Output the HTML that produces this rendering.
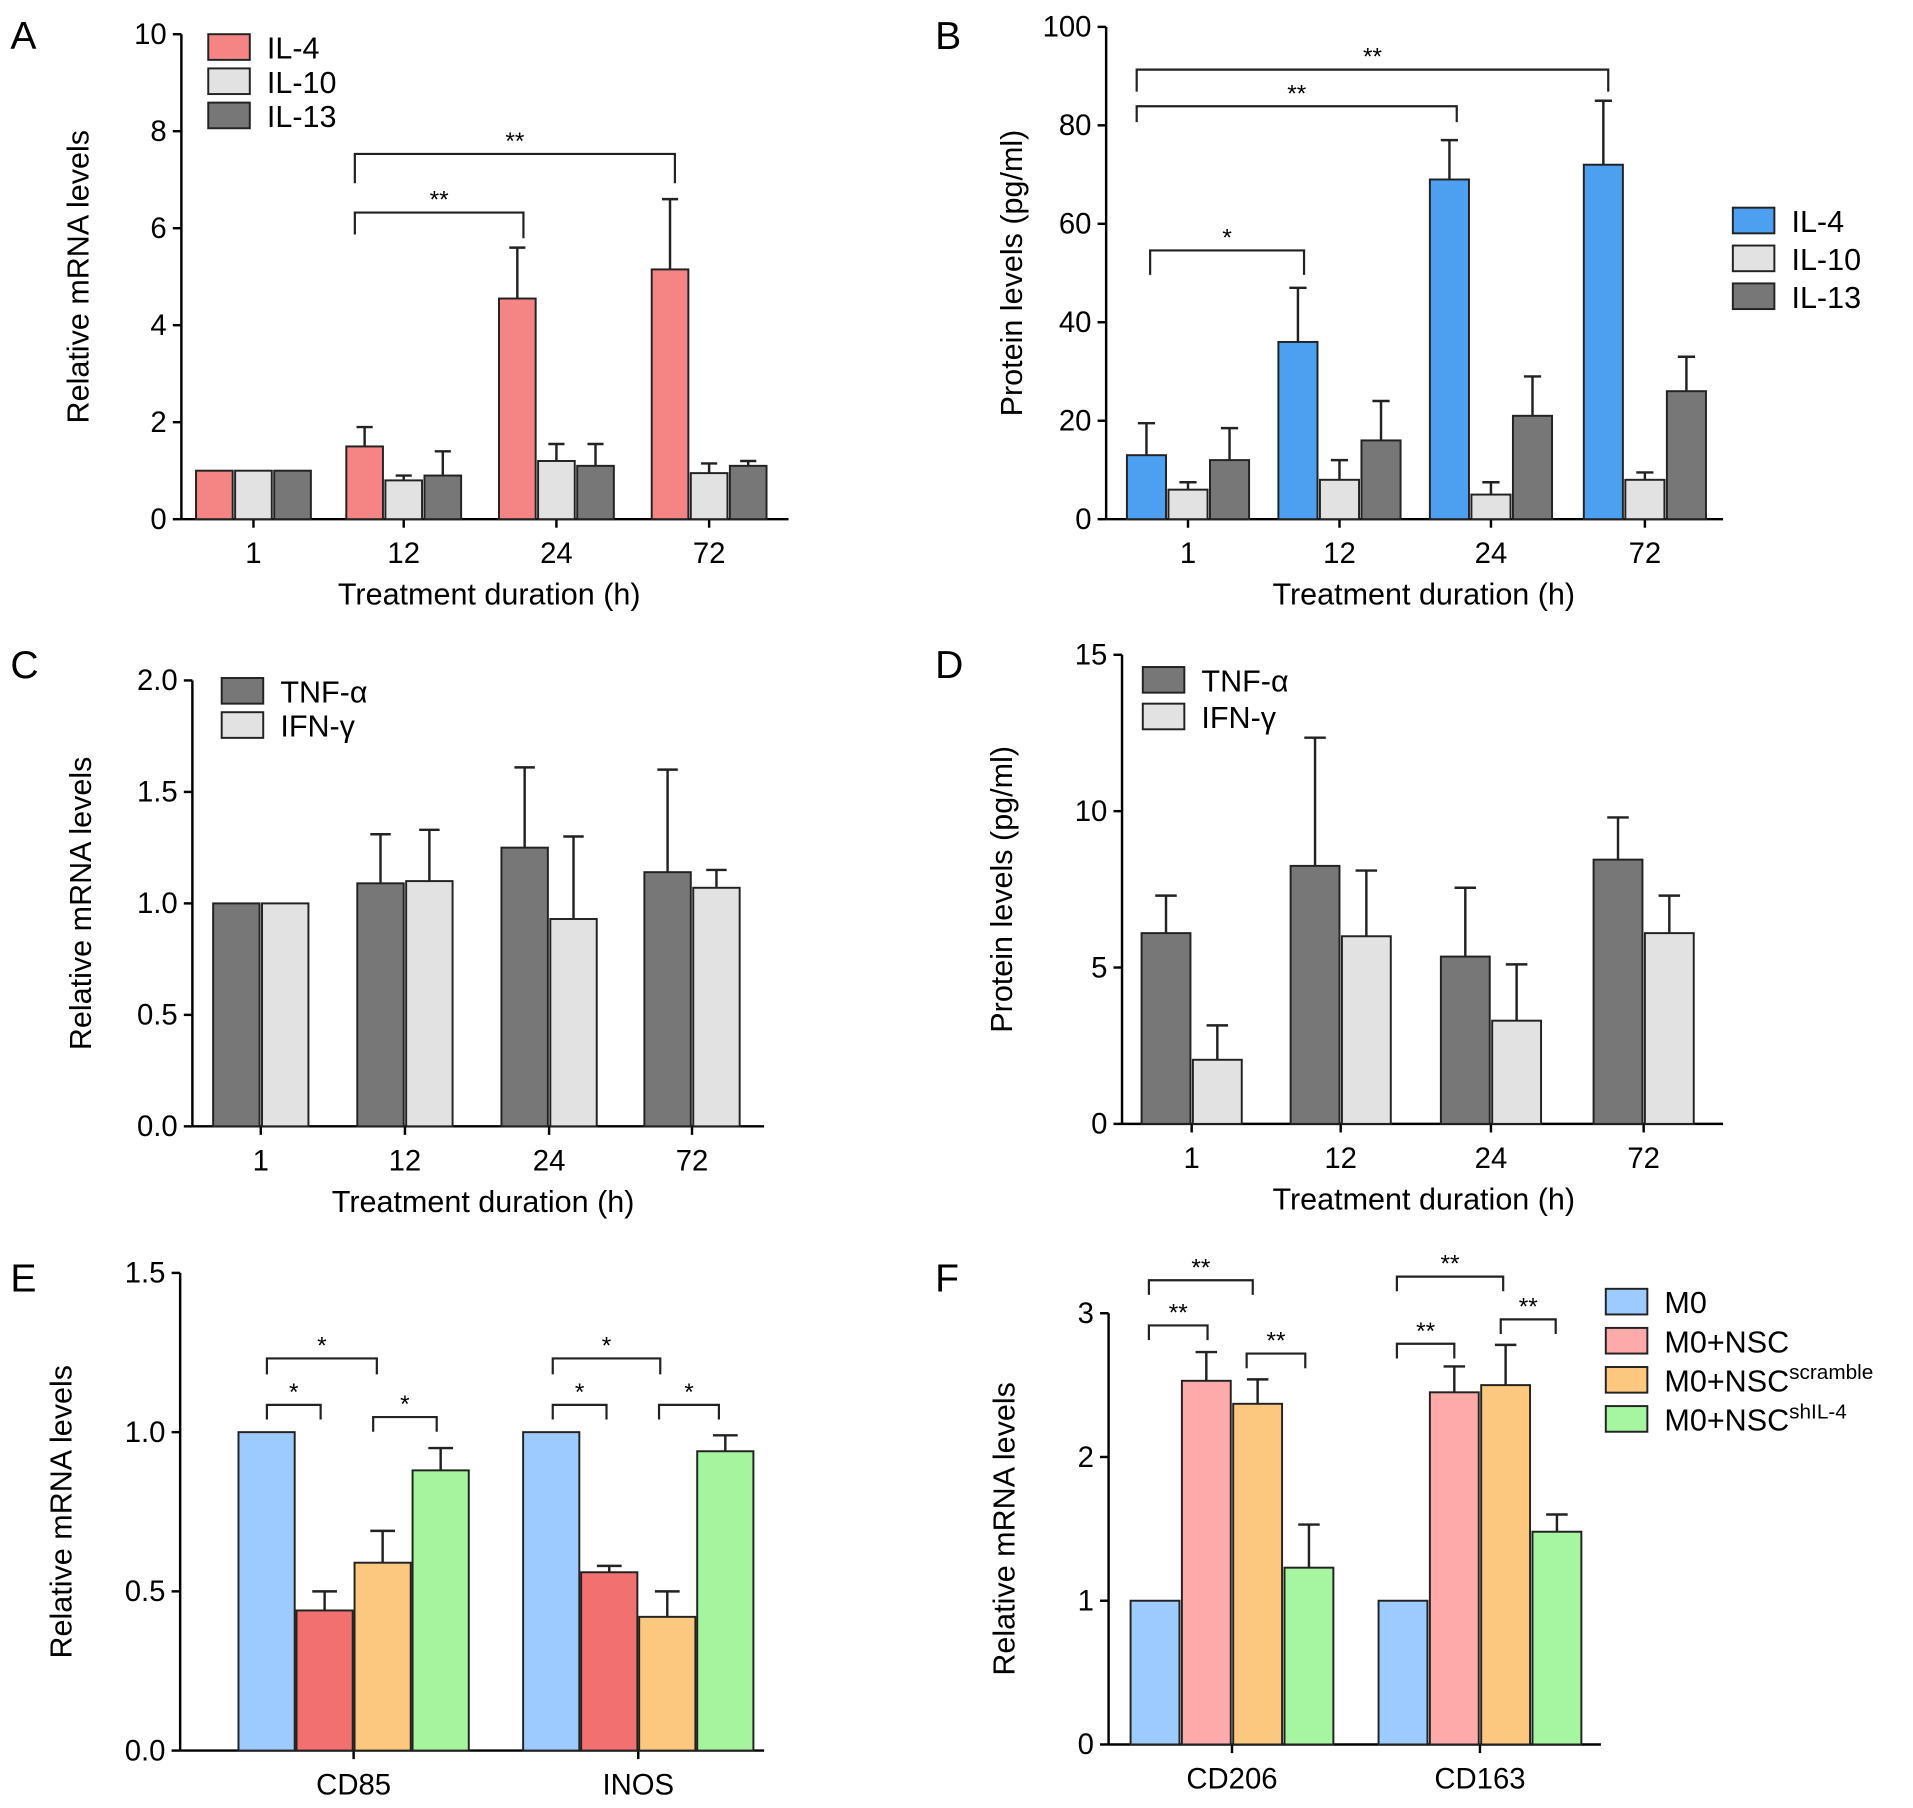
<!DOCTYPE html>
<html><head><meta charset="utf-8"><style>
html,body{margin:0;padding:0;background:#fff}
svg{display:block;font-family:"Liberation Sans",Arial,sans-serif}
</style></head><body>
<svg id="root" width="1913" height="1808" viewBox="0 0 1565 1480" xmlns="http://www.w3.org/2000/svg"></svg>
<script>
// ---- data ----
const groupsTime = ["1","12","24","72"];
const aIL4 = [1,1.5,4.55,5.15], aIL4e = [0,0.4,1.05,1.45];
const aIL10 = [1,0.8,1.2,0.95], aIL10e = [0,0.1,0.35,0.2];
const aIL13 = [1,0.9,1.1,1.1], aIL13e = [0,0.5,0.45,0.1];
const aTicks = [0,2,4,6,8,10];
const bIL4 = [13,36,69,72], bIL4e = [6.5,11,8,13];
const bIL10 = [6,8,5,8], bIL10e = [1.5,4,2.5,1.5];
const bIL13 = [12,16,21,26], bIL13e = [6.5,8,8,7];
const bTicks = [0,20,40,60,80,100];
const cTNF = [1,1.09,1.25,1.14], cTNFe = [0,0.22,0.36,0.46];
const cIFN = [1,1.1,0.93,1.07], cIFNe = [0,0.23,0.37,0.08];
const cTicks = ["0.0","0.5","1.0","1.5","2.0"];
const dTNF = [6.1,8.25,5.35,8.45], dTNFe = [1.2,4.1,2.2,1.35];
const dIFN = [2.05,6.0,3.3,6.1], dIFNe = [1.1,2.1,1.8,1.2];
const dTicks = [0,5,10,15];
const eGroups = ["CD85","INOS"];
const eM0 = [1,1], eM0e=[0,0];
const eNSC = [0.44,0.56], eNSCe=[0.06,0.02];
const eScr = [0.59,0.42], eScre=[0.1,0.08];
const eSh = [0.88,0.94], eShe=[0.07,0.05];
const eTicks = ["0.0","0.5","1.0","1.5"];
const fGroups = ["CD206","CD163"];
const fM0 = [1,1], fM0e=[0,0];
const fNSC = [2.53,2.45], fNSCe=[0.2,0.18];
const fScr = [2.37,2.5], fScre=[0.17,0.28];
const fSh = [1.23,1.48], fShe=[0.3,0.12];
const fTicks = [0,1,2,3];

const NS="http://www.w3.org/2000/svg", root=document.getElementById('root');
function mk(tag,attrs,parent,text){const e=document.createElementNS(NS,tag);for(const k in attrs)e.setAttribute(k,attrs[k]);if(text!==undefined)e.textContent=text;(parent||root).appendChild(e);return e;}

function panel(cfg){
  const g=mk('g',{});
  
  
  const y=v=>cfg.y0-(v-cfg.min)/(cfg.max-cfg.min)*(cfg.y0-cfg.ytop);
  const L=mk('text',{x:cfg.lx,y:cfg.ly,'font-size':32},g,cfg.letter);
  
  mk('line',{x1:cfg.ax,y1:cfg.ytop,x2:cfg.ax,y2:cfg.y0,stroke:'#000','stroke-width':2},g);
  mk('line',{x1:cfg.ax,y1:cfg.y0,x2:cfg.axEnd,y2:cfg.y0,stroke:'#000','stroke-width':2},g);
  cfg.ticks.forEach(t=>{const v=parseFloat(t);const yy=y(v);
    mk('line',{x1:cfg.ax-7,y1:yy,x2:cfg.ax,y2:yy,stroke:'#000','stroke-width':2},g);
    const tl=mk('text',{x:cfg.ax-12,y:yy+8,'font-size':24,'text-anchor':'end'},g,String(t));
    });
  const yl=mk('text',{x:0,y:0,'font-size':25,'text-anchor':'middle',transform:`translate(${cfg.ylx},${(cfg.y0+cfg.ytop)/2}) rotate(-90)`},g,cfg.ylabel);
  
  if(cfg.xlabel){const xl=mk('text',{x:cfg.xlx,y:cfg.y0+70,'font-size':25,'text-anchor':'middle'},g,cfg.xlabel);
    }
  const n=cfg.series.length;
  cfg.groups.forEach((gl,i)=>{const c=cfg.centers[i];
    mk('line',{x1:c,y1:cfg.y0,x2:c,y2:cfg.y0+7,stroke:'#000','stroke-width':2},g);
    const t=mk('text',{x:c,y:cfg.y0+36,'font-size':24,'text-anchor':'middle'},g,gl);
    
    cfg.series.forEach((s,j)=>{
      const x0=c-n*cfg.bw/2-(n-1)*cfg.gap/2+j*(cfg.bw+cfg.gap);
      const top=y(s.v[i]);
      const r=mk('rect',{x:x0,y:top,width:cfg.bw,height:cfg.y0-top,fill:s.c,stroke:'#222','stroke-width':1.6},g);
      
      
      if(s.e[i]>0){const et=y(s.v[i]+s.e[i]);const cx=x0+cfg.bw/2;
        mk('line',{x1:cx,y1:top,x2:cx,y2:et,stroke:'#222','stroke-width':2},g);
        mk('line',{x1:cx-cfg.bw*0.22,y1:et,x2:cx+cfg.bw*0.22,y2:et,stroke:'#222','stroke-width':2},g);}
    });
  });
  if(cfg.legX>0) cfg.series.forEach((s,j)=>{const ly=cfg.legY+j*cfg.legDy;
    const r=mk('rect',{x:cfg.legX,y:ly,width:34,height:21,fill:s.c,stroke:'#222','stroke-width':1.6},g);
    
    const t=mk('text',{x:cfg.legX+48,y:ly+20,'font-size':25},g);
    
    if(s.sup){t.textContent=s.n;mk('tspan',{'font-size':17,dy:-10},t,s.sup);}else t.textContent=s.n;
  });
  (cfg.brackets||[]).forEach(b=>{
    mk('path',{d:`M${b[0]} ${b[3]}V${b[2]}H${b[1]}V${b[4]}`,fill:'none',stroke:'#222','stroke-width':1.8},g);
    const t=mk('text',{x:(b[0]+b[1])/2,y:b[2]-4,'font-size':20,'text-anchor':'middle'},g,b[5]);
    
  });
}
const RED='#f58585',LG='#e2e2e2',DG='#777',BLUE='#4d9ff0';
panel({name:'panel-a-chart',letter:'A',lx:8,ly:40,ax:148,axEnd:645,y0:425,ytop:28,min:0,max:10,ticks:aTicks,ylx:72,ylabel:'Relative mRNA levels',xlabel:'Treatment duration (h)',xlx:400,
  groups:groupsTime,centers:[207,330,455,580],bw:30,gap:2,
  series:[{n:'IL-4',c:RED,v:aIL4,e:aIL4e},{n:'IL-10',c:LG,v:aIL10,e:aIL10e},{n:'IL-13',c:DG,v:aIL13,e:aIL13e}],
  legX:170,legY:28,legDy:28,
  brackets:[[290,428,174,192,195,'**'],[290,552,126,150,150,'**']]});
panel({name:'panel-b-chart',letter:'B',lx:765,ly:40,ax:905,axEnd:1410,y0:425,ytop:22,min:0,max:100,ticks:bTicks,ylx:836,ylabel:'Protein levels (pg/ml)',xlabel:'Treatment duration (h)',xlx:1165,
  groups:groupsTime,centers:[972,1096,1220,1346],bw:32,gap:2,
  series:[{n:'IL-4',c:BLUE,v:bIL4,e:bIL4e},{n:'IL-10',c:LG,v:bIL10,e:bIL10e},{n:'IL-13',c:DG,v:bIL13,e:bIL13e}],
  legX:1418,legY:170,legDy:31,
  brackets:[[941,1067,205,225,225,'*'],[930,1192,87,100,100,'**'],[930,1316,57,75,75,'**']]});
panel({name:'panel-c-chart',letter:'C',lx:8,ly:555,ax:157,axEnd:625,y0:922,ytop:557,min:0,max:2,ticks:cTicks,ylx:74,ylabel:'Relative mRNA levels',xlabel:'Treatment duration (h)',xlx:395,
  groups:groupsTime,centers:[213,331,449,566],bw:38,gap:2,
  series:[{n:'TNF-α',c:DG,v:cTNF,e:cTNFe},{n:'IFN-γ',c:LG,v:cIFN,e:cIFNe}],
  legX:181,legY:555,legDy:28});
panel({name:'panel-d-chart',letter:'D',lx:765,ly:555,ax:918,axEnd:1410,y0:920,ytop:536,min:0,max:15,ticks:dTicks,ylx:828,ylabel:'Protein levels (pg/ml)',xlabel:'Treatment duration (h)',xlx:1165,
  groups:groupsTime,centers:[975,1097,1220,1345],bw:40,gap:2,
  series:[{n:'TNF-α',c:DG,v:dTNF,e:dTNFe},{n:'IFN-γ',c:LG,v:dIFN,e:dIFNe}],
  legX:935,legY:546,legDy:30});
panel({name:'panel-e-chart',letter:'E',lx:8,ly:1057,ax:147,axEnd:625,y0:1433,ytop:1042,min:0,max:1.5,ticks:eTicks,ylx:58,ylabel:'Relative mRNA levels',
  groups:eGroups,centers:[289,522],bw:46,gap:1.5,
  series:[{n:'M0',c:'#9ecbff',v:eM0,e:eM0e},{n:'M0+NSC',c:'#f27070',v:eNSC,e:eNSCe},{n:'M0+NSC scr',c:'#fcc77f',v:eScr,e:eScre},{n:'M0+NSC sh',c:'#a6f59e',v:eSh,e:eShe}],
  legX:-999,legY:0,legDy:0,
  brackets:[[218,262,1150,1162,1162,'*'],[305,357,1160,1172,1172,'*'],[218,308,1112,1125,1125,'*'],[452,496,1150,1162,1162,'*'],[539,588,1150,1162,1162,'*'],[452,540,1112,1125,1125,'*']]});
panel({name:'panel-f-chart',letter:'F',lx:765,ly:1057,ax:907,axEnd:1310,y0:1428,ytop:1075,min:0,max:3,ticks:fTicks,ylx:830,ylabel:'Relative mRNA levels',
  groups:fGroups,centers:[1008,1211],bw:40,gap:2,
  series:[{n:'M0',c:'#9ecbff',v:fM0,e:fM0e},{n:'M0+NSC',c:'#ffaaaa',v:fNSC,e:fNSCe},{n:'M0+NSC',sup:'scramble',c:'#fcc77f',v:fScr,e:fScre},{n:'M0+NSC',sup:'shIL-4',c:'#a6f5a0',v:fSh,e:fShe}],
  legX:1314,legY:1055,legDy:32,
  brackets:[[940,988,1085,1097,1097,'**'],[940,1025,1048,1060,1060,'**'],[1020,1068,1108,1120,1120,'**'],[1143,1190,1100,1112,1112,'**'],[1143,1230,1045,1057,1057,'**'],[1228,1273,1080,1092,1092,'**']]});
</script>
</body></html>
